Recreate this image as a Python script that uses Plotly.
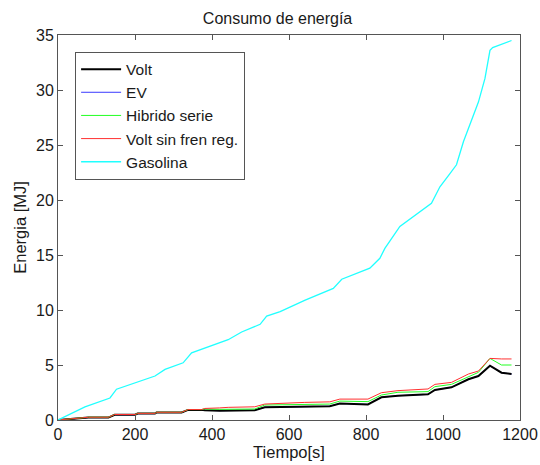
import plotly.graph_objects as go

# Low-energy series share a common time grid
t_low = [0, 61, 79, 131, 147, 200, 207, 252, 256, 321, 338, 373, 381, 420, 442, 511, 537,
         641, 706, 732, 797, 805, 840, 883, 961, 979, 1022, 1066, 1092, 1122, 1152, 1178]
volt = [0, 0.12, 0.22, 0.22, 0.48, 0.48, 0.58, 0.58, 0.68, 0.68, 0.92, 0.92, 0.88, 0.85, 0.85, 0.88, 1.15,
        1.2, 1.25, 1.5, 1.45, 1.42, 2.06, 2.21, 2.33, 2.73, 2.97, 3.7, 4.0, 4.94, 4.3, 4.18]
ev = list(volt)
hibrido = [0, 0.15, 0.25, 0.25, 0.5, 0.5, 0.6, 0.6, 0.7, 0.7, 0.95, 0.95, 1.0, 0.97, 0.97, 1.0, 1.36,
           1.4, 1.45, 1.72, 1.7, 1.67, 2.27, 2.52, 2.58, 3.03, 3.24, 3.94, 4.33, 5.6, 5.0, 5.0]
volt_sin = [0, 0.15, 0.25, 0.25, 0.5, 0.5, 0.6, 0.6, 0.7, 0.7, 0.95, 0.95, 1.05, 1.1, 1.15, 1.2, 1.45,
            1.6, 1.65, 1.9, 1.9, 1.9, 2.48, 2.67, 2.82, 3.24, 3.42, 4.18, 4.45, 5.6, 5.55, 5.55]

t_gas = [0, 70, 135, 152, 252, 278, 325, 347, 442, 477, 525, 542, 577, 642, 715, 737, 810, 836,
         849, 888, 970, 992, 1018, 1035, 1053, 1075, 1092, 1109, 1122, 1129, 1178]
gasolina = [0, 1.2, 2.0, 2.8, 4.0, 4.6, 5.2, 6.1, 7.3, 8.0, 8.7, 9.45, 9.85, 10.9, 11.97, 12.8, 13.8, 14.7,
            15.6, 17.6, 19.7, 21.2, 22.4, 23.2, 25.3, 27.4, 28.9, 31.05, 33.6, 33.85, 34.5]

x_ticks = [0, 200, 400, 600, 800, 1000, 1200]
y_ticks = [0, 5, 10, 15, 20, 25, 30, 35]

FONT = "Liberation Sans, Arial, sans-serif"
TXT = "#1a1a1a"

fig = go.Figure()
# EV drawn first (hidden below Volt), legend order via legendrank
fig.add_trace(go.Scatter(x=t_low, y=ev, mode="lines", name="EV",
                         line=dict(color="#3a3aff", width=1), legendrank=2))
fig.add_trace(go.Scatter(x=t_low, y=volt, mode="lines", name="Volt",
                         line=dict(color="#000000", width=2), legendrank=1))
fig.add_trace(go.Scatter(x=t_low, y=hibrido, mode="lines", name="Hibrido serie",
                         line=dict(color="#22ff22", width=1), legendrank=3))
fig.add_trace(go.Scatter(x=t_low, y=volt_sin, mode="lines", name="Volt sin fren reg.",
                         line=dict(color="#ff3030", width=1), legendrank=4))
fig.add_trace(go.Scatter(x=t_gas, y=gasolina, mode="lines", name="Gasolina",
                         line=dict(color="#20ffff", width=1.3), legendrank=5))

axis_common = dict(
    showgrid=False, zeroline=False, showline=True, linecolor="#555555", linewidth=1,
    mirror="ticks", ticks="inside", ticklen=5, tickcolor="#555555", automargin=False,
    tickfont=dict(family=FONT, size=16, color=TXT),
)

fig.update_layout(
    width=540, height=465,
    margin=dict(l=58, r=20, t=35, b=45),
    paper_bgcolor="white", plot_bgcolor="white",
    font=dict(family=FONT, size=16, color=TXT),
    title=dict(text="Consumo de energía", x=0.514, xanchor="center",
               y=1 - 18 / 465, yanchor="middle", yref="container",
               font=dict(family=FONT, size=16, color=TXT)),
    xaxis=dict(range=[0, 1200], tickvals=x_ticks, **axis_common,
               title=dict(text="Tiempo[s]", standoff=2,
                          font=dict(family=FONT, size=16.5, color=TXT))),
    yaxis=dict(range=[0, 35], tickvals=y_ticks, **axis_common,
               title=dict(text="Energia [MJ]", standoff=5,
                          font=dict(family=FONT, size=16.5, color=TXT))),
    showlegend=True,
    legend=dict(x=0.037, y=0.957, xanchor="left", yanchor="top",
                bgcolor="white", bordercolor="#555555", borderwidth=1,
                font=dict(family=FONT, size=15.5, color=TXT),
                itemwidth=40),
)

fig.write_html("out.html")
